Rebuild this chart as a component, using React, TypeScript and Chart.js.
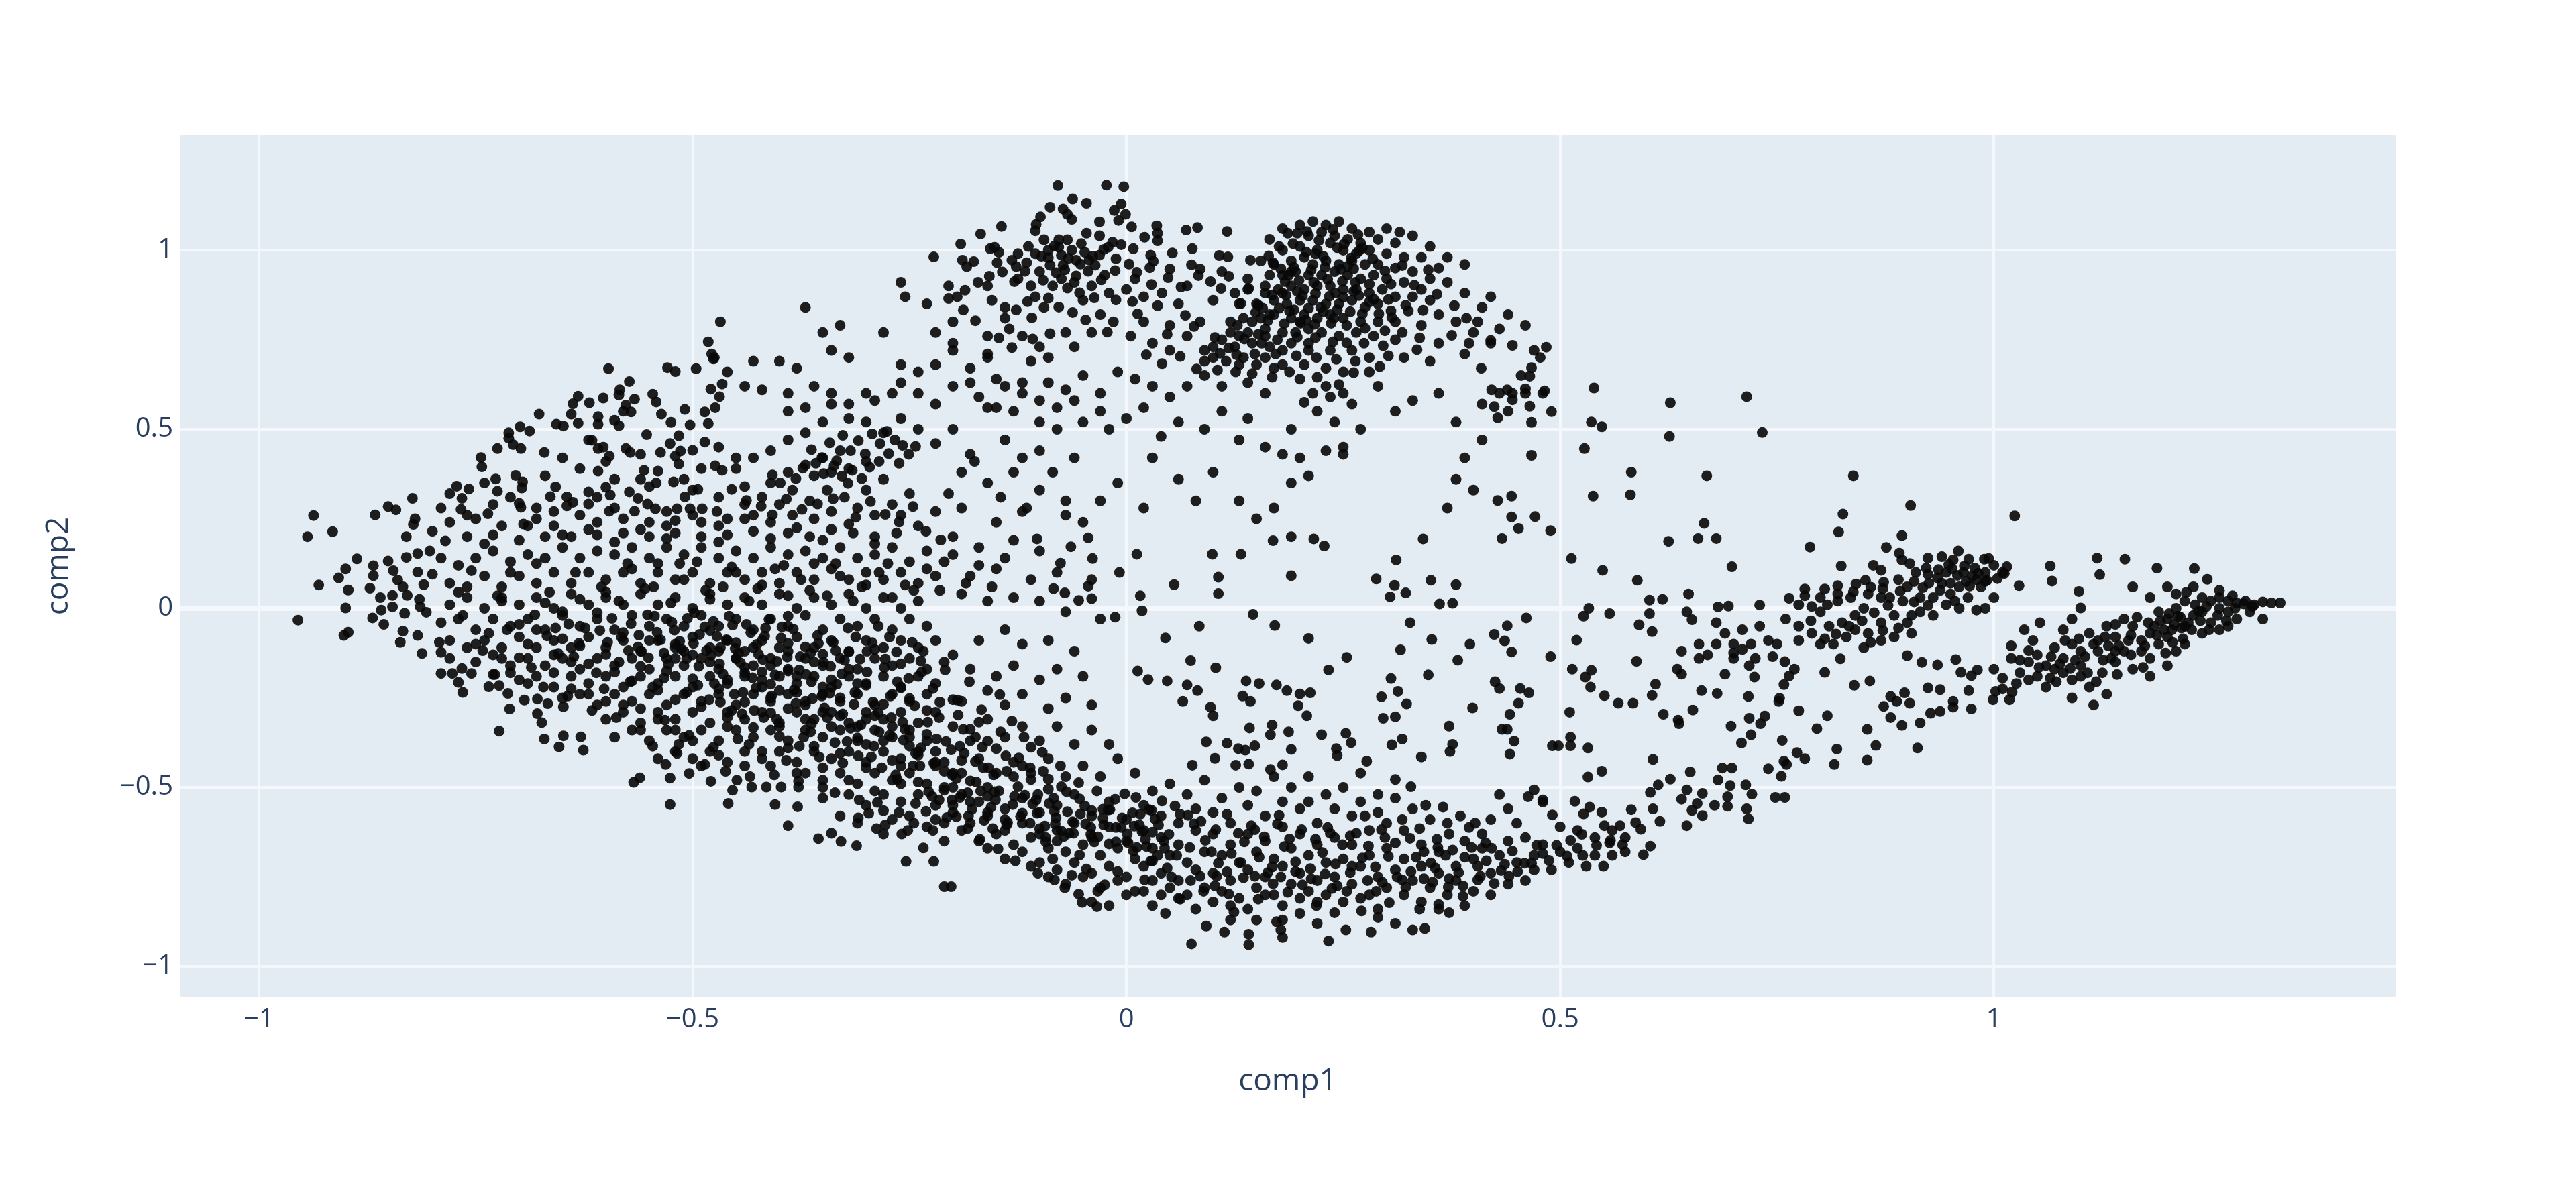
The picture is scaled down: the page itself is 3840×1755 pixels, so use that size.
import React, { useEffect, useRef } from "react";
import { Chart, registerables } from "chart.js";

Chart.register(...registerables);

const xTicks = [-1, -0.5, 0, 0.5, 1];
const yTicks = [-1, -0.5, 0, 0.5, 1];

// flat lists of comp1, comp2 pairs
const upperLeftFan = [
-.468,.8,-.482,.744,-.476,.696,-.478,.71,-.496,.669,-.597,.669,-.529,.672,-.52,.661,-.573,.633,-.584,.61,-.585,.596,-.466,.626,-.479,.612,-.469,.591,-.474,.56,-.632,.592,-.638,.571,-.64,.542,-.619,.574,-.603,.587,-.567,.584,-.546,.598,-.542,.576,-.577,.567,-.58,.55,-.571,.548,-.509,.555,-.486,.548,-.677,.542,-.536,.542,-.632,.517,-.609,.535,-.609,.514,-.59,.525,-.585,.51,-.657,.514,-.649,.509,-.525,.519,-.503,.512,-.482,.516,-.699,.507,-.688,.495,-.712,.49,-.712,.475,-.707,.457,-.698,.446,-.725,.446,-.671,.435,-.744,.421,-.743,.395,-.553,.485,-.516,.482,-.616,.469,-.609,.446,-.603,.45,-.596,.425,-.577,.446,-.572,.435,-.526,.46,-.537,.435,-.52,.425,-.514,.439,-.5,.441,-.486,.464,-.516,.403,-.609,.383,-.556,.385,-.54,.383,-.474,.398,-.466,.385,-.727,.361,-.704,.371,-.696,.353,-.697,.336,-.725,.327,-.772,.341,-.758,.333,-.766,.307,-.767,.276,-.823,.307,-.542,.35,-.522,.353,-.6,.338,-.595,.316,-.658,.339,-.664,.312,-.494,.332,-.509,.311,-.573,.325,-.563,.307,-.645,.311,-.638,.296,-.645,.286,-.62,.291,-.7,.293,-.698,.282,-.736,.264,-.851,.284,-.842,.275,-.866,.261,-.937,.259,-.552,.291,-.543,.278,-.53,.27,-.518,.278,-.503,.278,-.489,.278,-.472,.27,-.596,.271,-.567,.271,
-.78,.24,-.8,.215,-.75,.25,-.72,.23,-.68,.25,-.66,.23,-.63,.26,-.61,.24,-.58,.25,-.55,.24,-.52,.245,-.49,.24,-.46,.25,-.43,.26,-.76,.2,-.73,.205,-.7,.19,-.67,.2,-.64,.2,-.61,.205,-.58,.21,-.55,.2,-.52,.21,-.49,.2,-.46,.205,-.43,.215,-.41,.24,-.4,.29,-.42,.31,-.44,.34,-.41,.35,-.45,.39,-.43,.42,-.41,.44,-.39,.47,-.37,.49,-.35,.52,-.33,.44,-.35,.42,-.37,.4,-.39,.38,-.36,.37,-.34,.38,-.32,.39,-.3,.41,-.385,.33,-.365,.3,-.345,.33,-.325,.31,-.3,.33,-.28,.36,-.385,.26,-.36,.25,-.34,.27,-.31,.28,-.29,.26,-.27,.29,-.25,.32,-.39,.21,-.365,.2,-.34,.22,-.315,.21,-.29,.2,-.265,.21,-.24,.23,-.22,.27,
-.475,.7,-.46,.66,-.44,.62,-.43,.69,-.42,.61,-.4,.69,-.39,.6,-.38,.67,-.37,.84,-.35,.77,-.34,.72,-.33,.79,-.32,.7,-.3,.6,-.28,.77,-.27,.6,-.26,.91,-.255,.87,-.23,.85,-.22,.77,-.2,.74,-.16,.76,-.16,.71,-.39,.55,-.37,.56,-.36,.62,-.34,.57,-.32,.53,-.3,.52,-.28,.49,-.26,.53,-.24,.5,-.22,.46,-.2,.5,-.18,.43,-.16,.56,-.14,.47,-.12,.42,-.1,.44,-.08,.5,-.06,.42,
-.363,.443,-.351,.421,-.342,.462,-.334,.412,-.327,.483,-.318,.44,-.309,.468,-.301,.431,-.293,.487,-.284,.46,-.276,.494,-.267,.47,-.258,.455,-.373,.391,-.358,.405,-.349,.376,-.337,.398,-.328,.369,-.316,.385,-.305,.362,-.296,.394,-.285,.41,-.274,.432,-.262,.405,-.251,.43,-.243,.452,-.381,.362,-.399,.35,-.408,.372,
-.455,.332,-.438,.301,-.421,.285,-.408,.261,-.392,.305,-.374,.276,-.356,.291,-.338,.306,-.321,.349,-.312,.254,-.295,.298,-.278,.262,-.262,.241,-.246,.284,-.231,.215,-.214,.191,-.205,.32,-.19,.38,-.175,.41,-.16,.35,-.145,.31,-.13,.38,-.115,.28,-.1,.33,-.085,.38,-.07,.26,
-.62,.47,-.65,.42,-.63,.39,-.67,.37,-.6,.41,-.56,.43,-.55,.34,-.51,.36,-.49,.39,-.59,.36,-.61,.31,-.68,.28,-.71,.31,-.74,.35,-.78,.32,-.79,.28,-.82,.25,-.76,.26,-.73,.29,-.69,.23,-.66,.27,-.62,.22,-.59,.28,-.56,.22,-.53,.23,-.5,.26,-.47,.23,-.44,.29,-.47,.31,-.45,.42,-.47,.45,
];

const upperArc = [
-.079,1.18,-.023,1.181,-.003,1.177,-.062,1.143,-.046,1.131,-.088,1.12,-.073,1.115,-.068,1.1,-.063,1.086,-.006,1.129,-.014,1.111,-.001,1.1,-.009,1.083,-.031,1.079,.006,1.065,-.099,1.093,-.104,1.072,-.105,1.054,-.144,1.066,-.168,1.045,.035,1.068,.036,1.047,.021,1.036,.036,1.026,.069,1.056,.082,1.063,.116,1.052,-.046,1.047,-.095,1.029,-.078,1.029,-.068,1.029,-.031,1.04,-.016,1.022,-.021,1.008,-.006,1.015,-.191,1.017,-.152,1.008,-.147,.994,-.157,1.004,-.222,.981,-.125,.99,-.105,.99,-.09,1,-.078,1.008,-.063,1,-.048,.994,-.031,.986,-.09,.979,-.075,.986,-.058,.972,-.043,.972,-.012,.976,.008,1.004,.028,.986,.031,.969,.053,.992,.076,1.004,.107,.985,.117,.981,.143,.972,-.189,.972,-.184,.954,-.176,.968,-.149,.965,-.132,.972,-.127,.954,-.115,.965,-.088,.958,-.073,.958,-.053,.961,-.036,.958,.027,.951,.05,.947,.075,.959,.085,.947,.169,.965,.186,1.047,.197,1.047,
-.205,.9,-.205,.865,-.2,.8,-.195,.87,-.16,.9,-.155,.86,-.14,.81,-.135,.78,-.14,.84,-.125,.92,-.11,.9,-.1,.94,-.105,.87,-.095,.84,-.085,.9,-.075,.92,-.06,.91,-.05,.86,-.04,.9,-.025,.93,-.02,.88,0,.89,.01,.92,.02,.87,-.12,.76,-.11,.69,-.1,.73,-.09,.7,-.07,.77,-.06,.73,-.04,.77,-.03,.82,-.015,.8,.005,.76,.02,.8,.03,.74,.05,.72,.06,.85,.07,.9,.085,.8,.1,.86,.11,.94,.125,.88,.14,.92,.16,.88,.165,.82,.18,.88,.19,.94,.05,.79,.07,.76,.09,.72,.1,.7,.12,.8,.13,.76,.145,.8,.16,.76,.18,.72,.2,.8,.21,.74,.17,.67,.15,.68,-.15,.64,-.14,.62,-.12,.63,-.1,.58,-.09,.63,-.07,.61,-.05,.65,-.03,.6,-.01,.66,.01,.64,.03,.62,.05,.59,.07,.62,.09,.65,.11,.62,.13,.68,.14,.63,.16,.6,
-.34,.6,-.32,.57,-.29,.58,-.26,.63,-.24,.6,-.22,.57,-.2,.62,-.18,.63,-.17,.59,-.15,.56,-.13,.55,-.12,.6,-.1,.52,-.08,.56,-.06,.58,-.05,.52,-.03,.55,-.02,.5,0,.53,.02,.56,.04,.48,.06,.52,.09,.5,.11,.55,.13,.47,.14,.53,.18,.43,.19,.5,.16,.45,-.22,.68,-.24,.66,-.26,.68,-.18,.67,-.16,.7,-.2,.72,
-.113,1.01,-.098,.983,-.083,1.012,-.067,.977,-.052,1.018,-.039,.983,-.026,1.002,-.071,.945,-.058,.928,-.044,.941,-.029,.917,-.013,.943,.003,.961,.012,.938,-.096,.916,-.081,.937,-.117,.941,-.129,.912,-.143,.939,-.158,.927,-.171,.91,-.186,.888,-.068,.894,-.054,.881,-.037,.867,-.012,.861,.007,.856,.029,.904,.041,.88,.048,.923,.063,.897,.083,.929,.097,.912,.109,.893,.118,.927,.132,.851,.141,.893,.152,.846,-.114,.856,-.127,.833,-.109,.811,-.09,.866,-.078,.841,-.062,.826,-.047,.805,-.022,.771,.013,.822,.036,.845,.047,.765,.068,.818,.078,.787,.102,.756,.118,.727,.023,.708,.041,.683,.062,.703,.081,.668,-.088,.767,-.108,.752,-.132,.728,-.147,.755,-.174,.803,-.188,.833,
];

const denseCrown = [
.165,1.03,.18,1.06,.2,1.07,.215,1.08,.23,1.07,.245,1.08,.26,1.06,.28,1.05,.3,1.06,.315,1.05,.33,1.04,.21,1.04,.225,1.05,.24,1.04,.255,1.03,.27,1.02,.29,1.03,.31,1.02,.35,1.01,.37,.98,.39,.96,.18,1,.2,1.01,.22,1,.235,1.02,.25,1,.265,.99,.28,1,.3,.99,.32,.98,.34,.98,.36,.95,.155,.97,.17,.96,.19,.97,.205,.98,.215,.96,.23,.97,.245,.96,.26,.97,.275,.96,.29,.96,.31,.95,.33,.94,.35,.92,.165,.93,.18,.93,.195,.94,.21,.93,.225,.93,.24,.94,.255,.93,.27,.92,.285,.93,.3,.92,.32,.91,.34,.89,.37,.91,.14,.89,.16,.9,.175,.89,.19,.9,.205,.89,.22,.9,.235,.9,.25,.89,.265,.89,.28,.88,.295,.89,.31,.87,.33,.87,.35,.86,.39,.88,.42,.87,.13,.85,.15,.85,.17,.86,.185,.85,.2,.86,.215,.86,.23,.85,.245,.85,.26,.86,.275,.84,.29,.85,.305,.83,.325,.83,.36,.82,.38,.8,.41,.84,.44,.82,.46,.79,.135,.81,.155,.81,.17,.82,.19,.81,.205,.82,.22,.81,.235,.82,.25,.81,.27,.8,.29,.8,.31,.8,.34,.79,.4,.77,.43,.78,.47,.72,.12,.77,.14,.77,.16,.78,.18,.77,.195,.77,.21,.78,.225,.77,.245,.76,.265,.77,.285,.76,.31,.75,.36,.74,.39,.71,.42,.74,.1,.73,.125,.73,.145,.74,.165,.73,.19,.74,.21,.72,.235,.72,.26,.72,.28,.7,.32,.7,.35,.69,.115,.69,.135,.7,.16,.7,.18,.68,.205,.68,.23,.67,.25,.66,.28,.66,.2,.64,.23,.62,.215,.6,.25,.6,.26,.57,.22,.55,.24,.52,.27,.5,.23,.44,.25,.45,.2,.42,.19,.35,.21,.37,.19,.2,.25,.43,.29,.62,.33,.58,.31,.55,.36,.6,.38,.52,.41,.47,.39,.42,.38,.36,.4,.33,.37,.28,.43,.6,.46,.6,.44,.55,.41,.57,.455,.65,.48,.6,
.484,.729,.477,.7,.467,.672,.465,.648,.409,.67,.445,.734,.42,.748,.424,.563,.428,.532,.465,.564,.49,.549,.467,.519,.445,.6,.439,.61,.421,.61,.46,.613,.482,.607,.445,.582,.467,.427,.428,.301,.444,.313,.444,.255,.471,.256,.452,.223,.433,.195,.489,.217,
.208,1.052,.222,1.027,.238,1.058,.251,1.017,.267,1.043,.192,1.018,.207,.995,.227,.983,.243,1.007,.259,.978,.272,1.006,.213,.945,.229,.952,.247,.946,.262,.948,.284,.975,.193,.952,.178,.948,.164,.984,.199,.915,.216,.91,.232,.918,.249,.913,.264,.91,.28,.905,.298,.942,.183,.912,.168,.875,.184,.874,.203,.872,.218,.879,.234,.871,.25,.868,.268,.873,.285,.863,.176,.838,.193,.833,.21,.838,.227,.828,.243,.833,.258,.828,.272,.822,.291,.822,.302,.862,.149,.826,.163,.803,.182,.795,.201,.796,.217,.793,.236,.796,.254,.79,.275,.782,.298,.775,.152,.765,.174,.75,.197,.757,.218,.756,.238,.744,.254,.741,.274,.74,.296,.733,.108,.712,.127,.708,.148,.71,.172,.71,.196,.705,.219,.7,.242,.695,.264,.69,.09,.69,.105,.665,.126,.66,.145,.655,.168,.645,.188,.66,.22,.645,.245,.625,.235,.59,.205,.575,
.268,.998,.318,.957,.305,.905,.332,.902,.348,.945,.322,.846,.342,.832,.358,.877,.378,.845,.392,.81,.405,.8,.318,.77,.338,.755,.375,.762,.395,.74,.335,.722,.302,.705,.262,.658,.292,.675,.187,.93,.176,1.01,.255,.955,.218,.99,.197,.885,.262,.885,.28,.855,.306,.812,.241,.88,.224,.84,.239,.81,.207,.805,.188,.83,.157,.838,.128,.79,.11,.75,.136,.752,.156,.74,
];

const sparseMiddle = [
.012,.151,.099,.151,.132,.151,.106,.087,.106,.041,.055,.066,.19,.091,.169,.189,.216,.194,.228,.174,.342,.194,.311,.135,.288,.082,.309,.064,.322,.043,.304,.032,.351,.078,.38,.066,.361,.012,.376,.014,.016,.035,.018,-.007,-.013,-.025,-.008,.1,-.039,.139,-.044,.062,-.071,.043,-.055,.022,-.04,.027,-.084,.055,-.076,.126,-.064,.172,-.044,.197,-.103,.194,.146,-.017,.171,-.048,.084,-.05,.045,-.083,.21,-.084,.327,-.04,.352,-.087,.316,-.116,.396,-.1,.382,-.145,.254,-.137,.233,-.172,.348,-.186,.305,-.196,.313,-.232,.294,-.247,.323,-.267,.399,-.278,.31,-.303,.296,-.307,.372,-.329,.074,-.146,.103,-.166,.138,-.203,.153,-.21,.173,-.214,.185,-.23,.2,-.239,.212,-.236,.134,-.245,.143,-.26,.198,-.272,.208,-.3,.07,-.214,.082,-.23,.065,-.26,.097,-.276,.1,-.3,.047,-.203,.025,-.199,.013,-.175,.142,-.334,.168,-.326,.187,-.345,.166,-.353,.225,-.353,.253,-.349,.259,-.375,.242,-.392,.243,-.411,.19,-.394,.318,-.365,.306,-.381,.376,-.38,.373,-.4,.092,-.373,.116,-.377,.129,-.392,.148,-.384,.137,-.396,.102,-.419,.126,-.438,.141,-.435,.18,-.437,.166,-.45,.076,-.438,.277,-.427,.34,-.415,
.715,.591,.733,.491,.627,.574,.626,.48,.539,.615,.536,.52,.548,.507,.528,.446,.582,.38,.669,.37,.538,.313,.581,.317,.838,.37,.904,.287,.826,.263,1.024,.258,.821,.213,.894,.203,.666,.237,.659,.195,.68,.195,.625,.187,.788,.171,.876,.17,.513,.139,.549,.106,.698,.116,.589,.078,.824,.118,
.603,.023,.618,.025,.648,.04,.533,0,.527,-.022,.557,-.015,.603,-.015,.646,-.01,.652,-.032,.682,.004,.694,.006,.73,.009,.591,-.046,.606,-.065,.461,-.027,.439,-.049,.424,-.073,.436,-.091,.444,-.122,.519,-.089,.489,-.135,.588,-.148,.514,-.17,.536,-.173,.529,-.192,.535,-.22,.425,-.205,.43,-.224,.454,-.224,.464,-.236,.452,-.265,.442,-.296,.551,-.244,.567,-.265,.584,-.265,.606,-.243,.61,-.212,.511,-.29,.433,-.338,.439,-.338,.447,-.371,.442,-.407,.491,-.384,.498,-.384,.512,-.36,.512,-.384,.532,-.39,.607,-.422,.548,-.455,.532,-.471,.619,-.296,.636,-.312,.637,-.322,.653,-.284,.663,-.23,.681,-.238,.717,-.246,.752,-.26,.753,-.251,.775,-.286,.697,-.329,.718,-.307,.736,-.301,.731,-.322,.72,-.353,.709,-.376,.756,-.369,.796,-.336,.808,-.3,.854,-.338,.864,-.383,.819,-.393,.816,-.436,.854,-.424,.912,-.39,.773,-.403,.782,-.42,.758,-.427,.761,-.436,.74,-.448,.755,-.469,.687,-.446,.698,-.446,.65,-.457,.759,-.528,.748,-.528,
.9,-.132,.917,-.151,.935,-.158,.956,-.143,.962,-.179,.974,-.188,.981,-.172,.839,-.215,.857,-.203,.805,-.179,.823,-.141,.77,-.17,.764,-.189,.758,-.213,.759,-.149,.724,-.192,.718,-.16,.69,-.184,.64,-.184,.635,-.17,.64,-.12,.66,-.1,.67,-.13,.7,-.1,.69,-.07,.68,-.04,.71,-.06,.73,-.05,.7,-.125,.66,-.14,
];

const lowerBand = [
-.202,-.777,-.21,-.777,-.254,-.707,-.222,-.707,-.234,-.669,-.288,-.615,-.311,-.663,-.355,-.643,-.329,-.651,-.34,-.628,-.071,-.78,-.055,-.798,-.051,-.821,-.034,-.833,-.033,-.79,-.083,-.758,.045,-.852,.124,-.848,.092,-.887,.113,-.904,.075,-.937,.141,-.91,.141,-.939,.173,-.875,.178,-.898,.18,-.919,.233,-.929,.253,-.898,.282,-.904,.33,-.898,.344,-.894,.2,-.852,.29,-.863,.372,-.85,.36,-.827,
.627,-.477,.613,-.493,.604,-.514,.646,-.507,.64,-.533,.664,-.517,.682,-.479,.696,-.495,.714,-.493,.721,-.519,.693,-.526,.693,-.553,.678,-.55,.658,-.545,.652,-.564,.664,-.579,.646,-.607,.715,-.56,.717,-.588,.615,-.595,.607,-.56,.582,-.562,.47,-.507,.463,-.526,.48,-.541,.491,-.577,.517,-.539,.534,-.555,.527,-.574,.548,-.569,.551,-.607,.525,-.631,.587,-.598,.593,-.617,.575,-.64,.604,-.664,.596,-.688,.557,-.655,.569,-.607,
.43,-.52,.44,-.56,.45,-.6,.42,-.59,.41,-.63,.44,-.65,.46,-.64,.48,-.66,.47,-.69,.5,-.68,.52,-.67,.54,-.69,.56,-.69,.575,-.68,.55,-.72,.53,-.72,.51,-.71,.49,-.73,.47,-.73,.45,-.71,.43,-.69,.41,-.67,.39,-.65,.37,-.6,.35,-.59,.33,-.56,.31,-.53,.29,-.57,.27,-.54,.25,-.5,.23,-.52,.21,-.47,.19,-.5,.17,-.47,.15,-.51,.13,-.5,.11,-.53,.09,-.48,.07,-.52,.05,-.49,.03,-.51,.01,-.46,
.4,-.7,.42,-.74,.38,-.72,.36,-.68,.34,-.66,.32,-.62,.3,-.6,.28,-.62,.26,-.58,.24,-.56,.22,-.6,.2,-.56,.18,-.54,.16,-.58,.14,-.55,.12,-.6,.1,-.57,.08,-.56,.06,-.6,.04,-.58,.02,-.55,0,-.59,-.02,-.54,-.04,-.58,-.06,-.52,-.08,-.55,-.1,-.57,-.12,-.53,-.14,-.56,-.16,-.5,-.18,-.54,-.2,-.5,
.44,-.77,.46,-.76,.4,-.79,.38,-.76,.36,-.74,.34,-.72,.32,-.7,.3,-.67,.28,-.69,.26,-.66,.24,-.64,.22,-.66,.2,-.63,.18,-.61,.16,-.65,.14,-.63,.12,-.66,.1,-.63,.08,-.62,.06,-.66,.04,-.64,.02,-.62,0,-.65,-.02,-.61,-.04,-.64,-.06,-.6,-.08,-.62,-.1,-.63,-.12,-.6,-.14,-.62,-.16,-.57,-.18,-.6,-.2,-.57,-.22,-.59,
.42,-.8,.39,-.83,.37,-.8,.35,-.78,.33,-.76,.31,-.73,.29,-.75,.27,-.72,.25,-.7,.23,-.71,.21,-.69,.19,-.67,.17,-.7,.15,-.68,.13,-.71,.11,-.69,.09,-.68,.07,-.71,.05,-.69,.03,-.67,.01,-.7,-.01,-.67,-.03,-.69,-.05,-.66,-.07,-.68,-.09,-.67,-.11,-.64,-.13,-.66,-.15,-.63,-.17,-.65,-.19,-.62,
.36,-.84,.34,-.82,.32,-.8,.3,-.78,.28,-.8,.26,-.77,.24,-.75,.22,-.76,.2,-.74,.18,-.72,.16,-.75,.14,-.73,.12,-.76,.1,-.74,.08,-.73,.06,-.76,.04,-.74,.02,-.72,0,-.75,-.02,-.72,-.04,-.74,-.06,-.71,-.08,-.73,-.1,-.71,-.12,-.68,-.14,-.7,-.16,-.67,
.31,-.88,.29,-.84,.27,-.81,.25,-.82,.23,-.8,.21,-.79,.19,-.77,.17,-.8,.15,-.78,.13,-.81,.11,-.79,.09,-.78,.07,-.8,.05,-.78,.03,-.76,.01,-.79,-.01,-.76,-.03,-.78,-.05,-.75,-.07,-.77,-.09,-.75,-.11,-.72,
.24,-.85,.22,-.82,.2,-.81,.18,-.83,.16,-.8,.14,-.84,.12,-.83,.1,-.82,.08,-.84,.06,-.81,.04,-.8,.02,-.79,0,-.8,-.04,-.82,-.02,-.83,.03,-.83,.22,-.88,.18,-.87,.15,-.87,.12,-.87,
-.01,-.42,-.03,-.47,-.05,-.44,-.07,-.47,-.09,-.42,-.11,-.46,-.13,-.43,-.15,-.46,-.17,-.42,-.19,-.46,-.21,-.43,-.02,-.38,-.04,-.34,-.06,-.38,-.08,-.33,-.1,-.37,-.12,-.33,-.14,-.36,-.16,-.31,-.18,-.37,-.2,-.33,-.04,-.27,-.07,-.25,-.09,-.28,-.12,-.24,-.14,-.27,-.16,-.23,-.19,-.26,-.05,-.19,-.08,-.17,-.1,-.2,-.13,-.16,-.15,-.19,-.18,-.17,-.2,-.13,-.06,-.12,-.09,-.09,-.12,-.1,-.14,-.06,-.17,-.09,-.03,-.03,-.07,-.01,-.1,.02,-.13,.03,-.16,.02,-.19,.04,-.04,.08,-.08,.1,-.11,.08,-.15,.11,-.18,.09,-.21,.13,-.1,.16,-.13,.19,-.17,.17,-.2,.2,-.12,.27,-.15,.24,-.19,.28,-.07,.3,-.05,.24,-.03,.3,-.01,.35,.03,.42,.06,.36,.02,.28,.08,.3,.1,.38,.13,.3,.15,.25,.17,.28,
-.012,-.612,.007,-.571,.018,-.623,.033,-.588,.049,-.631,.062,-.575,.078,-.602,.091,-.648,-.027,-.561,-.041,-.612,-.053,-.574,-.066,-.628,-.081,-.585,-.094,-.608,-.108,-.546,-.122,-.581,-.137,-.598,-.151,-.535,-.164,-.592,-.178,-.561,-.192,-.528,-.207,-.584,-.037,-.652,-.054,-.689,-.072,-.637,-.093,-.652,.012,-.668,.028,-.706,.043,-.65,.058,-.69,.073,-.668,.106,-.712,.121,-.685,.136,-.652,.153,-.695,.168,-.722,.182,-.665,.195,-.708,.212,-.727,.226,-.682,.241,-.714,.258,-.738,.272,-.697,.287,-.722,.302,-.693,.318,-.758,.334,-.695,.351,-.711,.368,-.69,.383,-.738,.398,-.668,.415,-.705,.432,-.732,.445,-.678,.459,-.712,.473,-.662,.487,-.704,.508,-.692,.085,-.748,.102,-.775,.118,-.798,.135,-.752,.152,-.812,.169,-.769,.186,-.793,.203,-.772,.219,-.83,.237,-.782,.254,-.79,.271,-.845,.288,-.79,.303,-.822,.322,-.778,.338,-.84,.353,-.765,.371,-.778,.388,-.804,.405,-.758,.424,-.768,.441,-.748,.062,-.812,.021,-.758,
-.183,-.615,-.169,-.645,-.148,-.672,-.128,-.705,-.102,-.74,-.085,-.7,-.063,-.745,-.046,-.728,-.025,-.772,-.01,-.735,-.196,-.582,-.223,-.62,-.216,-.535,-.231,-.567,-.245,-.6,-.259,-.63,-.243,-.545,-.262,-.57,-.278,-.605,-.297,-.572,-.287,-.542,-.309,-.585,.148,-.618,.176,-.578,.21,-.54,.232,-.612,.258,-.635,.275,-.58,.298,-.64,.318,-.59,.338,-.615,.358,-.645,.372,-.63,.395,-.612,.414,-.655,.27,-.46,.29,-.52,.31,-.478,.328,-.498,.345,-.55,.365,-.555,.385,-.58,.402,-.6,.48,-.535,.5,-.61,.52,-.62,.54,-.64,.56,-.62,
-.002,-.518,-.021,-.563,.011,-.528,.026,-.562,.041,-.538,.056,-.552,.071,-.578,.086,-.595,.103,-.618,.116,-.575,.129,-.628,.144,-.607,.159,-.638,.174,-.602,.188,-.644,.202,-.618,.218,-.645,.235,-.628,.249,-.66,.265,-.628,.279,-.664,.294,-.618,.31,-.655,.327,-.642,.343,-.68,.359,-.668,.376,-.675,.39,-.695,.405,-.72,.421,-.67,.436,-.715,.451,-.735,.467,-.712,.48,-.685,.496,-.662,.512,-.648,.526,-.69,.542,-.662,.558,-.648,.572,-.66,
.03,-.705,.047,-.725,.098,-.68,.116,-.736,.132,-.71,.148,-.748,.163,-.738,.178,-.75,.195,-.735,.213,-.755,.229,-.742,.243,-.775,.26,-.72,.278,-.76,.295,-.765,.312,-.75,.328,-.735,.343,-.755,.356,-.725,.372,-.755,.388,-.775,.408,-.748,.074,-.76,.089,-.79,.104,-.748,.052,-.75,
];

const leftMass = [
-.955,-.033,-.944,.2,-.915,.214,-.887,.138,-.851,.132,-.868,.119,-.9,.11,-.908,.085,-.931,.065,-.897,.051,-.868,.091,-.872,.056,-.9,.001,-.897,-.067,-.902,-.076,-.83,.2,-.822,.234,-.817,.153,-.803,.16,-.817,.101,-.84,.079,-.834,.06,-.81,.066,-.846,.036,-.829,.036,-.859,-.005,-.869,-.027,-.856,-.045,-.834,-.064,-.837,-.095,-.817,-.076,-.812,-.126,-.792,-.095,-.79,-.123,-.846,.004,-.832,-.014,-.807,-.011,-.814,.004,-.79,-.182,-.777,-.182,-.755,-.182,-.77,-.207,-.765,-.235,-.735,-.219,-.723,-.216,-.73,-.185,-.713,-.238,-.711,-.281,-.723,-.343,-.679,-.294,-.674,-.319,-.671,-.365,-.649,-.356,-.629,-.359,-.654,-.387,-.626,-.396,-.694,-.256,-.679,-.253,-.667,-.266,-.649,-.275,-.568,-.486,-.561,-.473,-.526,-.548,-.459,-.545,-.405,-.548,-.379,-.554,-.39,-.607,-.454,-.508,-.449,-.48,-.432,-.499,-.415,-.499,-.398,-.499,-.378,-.499,-.526,-.474,-.504,-.461,-.479,-.483,-.531,-.436,-.486,-.436,-.516,-.38,
-.79,.14,-.77,.12,-.75,.14,-.73,.16,-.71,.13,-.69,.15,-.67,.14,-.65,.17,-.63,.14,-.61,.16,-.59,.15,-.57,.17,-.55,.14,-.53,.17,-.51,.15,-.49,.17,-.47,.14,-.45,.16,-.43,.14,-.41,.17,-.39,.15,-.37,.16,-.35,.14,-.33,.17,-.31,.14,-.29,.15,-.27,.17,-.25,.13,-.23,.16,
-.78,.07,-.76,.06,-.74,.09,-.72,.06,-.7,.09,-.68,.07,-.66,.1,-.64,.07,-.62,.1,-.6,.08,-.58,.1,-.56,.07,-.54,.1,-.52,.08,-.5,.1,-.48,.07,-.46,.1,-.44,.08,-.42,.1,-.4,.07,-.38,.1,-.36,.08,-.34,.11,-.32,.08,-.3,.1,-.28,.08,-.26,.1,-.24,.07,-.22,.09,
-.78,.01,-.76,.03,-.74,0,-.72,.03,-.7,.01,-.68,.03,-.66,0,-.64,.04,-.62,.01,-.6,.03,-.58,.01,-.56,.04,-.54,.01,-.52,.03,-.5,0,-.48,.04,-.46,.01,-.44,.03,-.42,.01,-.4,.04,-.38,0,-.36,.03,-.34,.01,-.32,.04,-.3,0,-.28,.03,-.26,0,-.24,.02,
-.79,-.04,-.77,-.03,-.75,-.06,-.73,-.03,-.71,-.05,-.69,-.03,-.67,-.06,-.65,-.02,-.63,-.05,-.61,-.03,-.59,-.06,-.57,-.02,-.55,-.05,-.53,-.03,-.51,-.05,-.49,-.02,-.47,-.05,-.45,-.03,-.43,-.06,-.41,-.03,-.39,-.05,-.37,-.02,-.35,-.06,-.33,-.03,-.31,-.05,-.29,-.03,-.27,-.06,-.25,-.03,-.23,-.05,
-.78,-.09,-.76,-.11,-.74,-.09,-.72,-.11,-.7,-.08,-.68,-.11,-.66,-.09,-.64,-.11,-.62,-.08,-.6,-.11,-.58,-.09,-.56,-.12,-.54,-.09,-.52,-.11,-.5,-.08,-.48,-.11,-.46,-.09,-.44,-.12,-.42,-.09,-.4,-.11,-.38,-.08,-.36,-.11,-.34,-.09,-.32,-.12,-.3,-.09,-.28,-.11,-.26,-.09,-.24,-.11,-.22,-.09,
-.75,-.15,-.73,-.13,-.71,-.16,-.69,-.14,-.67,-.16,-.65,-.14,-.63,-.17,-.61,-.14,-.59,-.16,-.57,-.14,-.55,-.17,-.53,-.14,-.51,-.16,-.49,-.14,-.47,-.17,-.45,-.14,-.43,-.16,-.41,-.14,-.39,-.17,-.37,-.14,-.35,-.16,-.33,-.14,-.31,-.17,-.29,-.14,-.27,-.16,-.25,-.14,-.23,-.17,-.21,-.15,
-.7,-.2,-.68,-.19,-.66,-.22,-.64,-.19,-.62,-.21,-.6,-.19,-.58,-.22,-.56,-.19,-.54,-.21,-.52,-.19,-.5,-.22,-.48,-.19,-.46,-.21,-.44,-.19,-.42,-.22,-.4,-.19,-.38,-.21,-.36,-.19,-.34,-.22,-.32,-.19,-.3,-.21,-.28,-.19,-.26,-.22,-.24,-.19,-.22,-.21,
-.65,-.25,-.63,-.24,-.61,-.27,-.59,-.24,-.57,-.26,-.55,-.24,-.53,-.27,-.51,-.24,-.49,-.26,-.47,-.24,-.45,-.27,-.43,-.24,-.41,-.26,-.39,-.24,-.37,-.27,-.35,-.24,-.33,-.26,-.31,-.24,-.29,-.27,-.27,-.24,-.25,-.26,-.23,-.24,
-.6,-.31,-.58,-.29,-.56,-.32,-.54,-.29,-.52,-.31,-.5,-.29,-.48,-.32,-.46,-.29,-.44,-.31,-.42,-.29,-.4,-.32,-.38,-.29,-.36,-.31,-.34,-.29,-.32,-.32,-.3,-.29,-.28,-.31,-.26,-.29,-.24,-.32,-.22,-.29,
-.59,-.36,-.57,-.34,-.55,-.37,-.53,-.34,-.51,-.36,-.49,-.34,-.47,-.37,-.45,-.34,-.43,-.36,-.41,-.34,-.39,-.37,-.37,-.34,-.35,-.36,-.33,-.34,-.31,-.37,-.29,-.34,-.27,-.36,-.25,-.34,-.23,-.37,
-.54,-.42,-.52,-.4,-.5,-.42,-.48,-.4,-.46,-.43,-.44,-.4,-.42,-.42,-.4,-.4,-.38,-.43,-.36,-.4,-.34,-.42,-.32,-.4,-.3,-.43,-.28,-.4,-.26,-.42,-.24,-.4,-.22,-.43,-.37,-.46,-.35,-.48,-.33,-.46,-.31,-.49,-.29,-.46,-.27,-.48,-.25,-.46,-.23,-.49,-.35,-.53,-.32,-.52,-.3,-.55,-.28,-.52,-.26,-.54,-.24,-.52,-.22,-.55,-.33,-.58,-.31,-.6,-.27,-.59,-.25,-.58,-.23,-.61,-.28,-.63,-.21,-.65,
-.45,-.14,-.47,-.12,-.43,-.11,-.41,-.16,-.39,-.12,-.44,-.18,-.46,-.2,-.42,-.2,-.4,-.23,-.38,-.19,-.36,-.15,-.34,-.2,-.48,-.15,-.5,-.13,-.52,-.1,-.35,-.22,-.33,-.25,-.31,-.21,-.37,-.26,-.39,-.28,-.41,-.25,-.35,-.29,-.33,-.3,-.29,-.3,-.31,-.33,-.27,-.33,-.25,-.36,-.28,-.37,-.3,-.38,-.24,-.41,-.26,-.44,-.22,-.44,-.2,-.46,-.21,-.5,-.19,-.52,-.17,-.54,-.2,-.55,-.16,-.58,
];

const denseRidge = [
-.607,-.062,-.593,-.028,-.582,-.081,-.571,-.043,-.563,-.108,-.552,-.018,-.541,-.067,-.533,-.125,-.524,-.039,-.515,-.092,-.507,-.141,-.498,-.012,-.492,-.073,-.484,-.118,-.476,-.037,-.469,-.155,-.461,-.088,-.454,-.047,-.447,-.125,-.44,-.165,-.433,-.068,-.426,-.101,-.419,-.143,-.412,-.031,-.405,-.186,-.398,-.083,-.391,-.136,-.384,-.058,-.377,-.172,-.37,-.108,-.363,-.205,-.356,-.076,-.349,-.151,-.342,-.237,-.335,-.118,-.328,-.183,-.321,-.055,-.314,-.268,-.307,-.142,-.3,-.215,-.293,-.096,-.286,-.291,-.279,-.165,-.272,-.245,-.265,-.122,-.258,-.318,-.251,-.196,-.244,-.272,-.237,-.147,-.23,-.352,-.223,-.224,-.216,-.305,-.209,-.172,-.202,-.395,-.195,-.256,-.188,-.338,-.181,-.205,-.174,-.428,-.167,-.283,-.16,-.371,-.153,-.465,-.146,-.241,-.139,-.412,-.132,-.315,-.125,-.498,-.118,-.36,-.111,-.445,-.104,-.535,-.097,-.402,-.09,-.477,-.083,-.567,-.076,-.44,-.069,-.512,-.062,-.596,-.055,-.487,-.048,-.552,-.041,-.631,-.034,-.51,-.027,-.586,-.02,-.658,-.013,-.533,-.006,-.612,.001,-.63,.008,-.678,.015,-.605,.022,-.645,.029,-.564,.036,-.69,
-.682,-.018,-.668,-.077,-.655,-.126,-.643,-.044,-.631,-.098,-.62,-.155,-.61,-.012,-.6,-.129,-.59,-.178,-.58,-.068,-.57,-.203,-.56,-.162,-.55,-.09,-.54,-.229,-.53,-.175,-.52,-.255,-.51,-.12,-.5,-.197,-.49,-.275,-.48,-.062,-.47,-.225,-.46,-.305,-.45,-.096,-.44,-.262,-.43,-.333,-.42,-.178,-.41,-.292,-.4,-.358,-.39,-.022,-.38,-.235,-.37,-.31,-.36,-.385,-.35,-.128,-.34,-.33,-.33,-.405,-.32,-.17,-.31,-.362,-.3,-.445,-.29,-.115,-.28,-.268,-.27,-.425,-.26,-.222,-.25,-.385,-.24,-.485,-.23,-.285,-.22,-.4,-.21,-.508,-.2,-.255,-.19,-.425,-.18,-.482,-.17,-.318,-.16,-.525,-.15,-.392,-.14,-.59,-.13,-.47,-.12,-.572,-.11,-.388,-.1,-.615,-.09,-.505,-.08,-.65,
-.78,-.14,-.766,-.168,-.742,-.118,-.728,-.185,-.714,-.06,-.7,-.138,-.686,-.165,-.672,-.22,-.658,-.055,-.644,-.245,-.63,-.105,-.616,-.285,-.602,-.225,-.588,-.305,-.574,-.118,-.56,-.34,-.546,-.385,-.532,-.312,-.518,-.405,-.504,-.355,-.49,-.44,-.476,-.388,-.462,-.455,-.448,-.365,-.434,-.47,-.42,-.4,-.406,-.465,-.392,-.425,-.378,-.482,-.364,-.345,-.35,-.445,-.336,-.515,-.322,-.372,-.308,-.535,-.294,-.415,-.28,-.565,-.266,-.465,-.252,-.62,-.238,-.44,-.224,-.525,-.21,-.6,-.196,-.475,-.182,-.58,-.168,-.51,-.154,-.615,
-.86,.03,-.845,.105,-.83,.142,-.815,.025,-.8,.095,-.785,.188,-.77,.045,-.755,.105,-.74,.18,-.725,.035,-.71,.1,-.695,.235,-.68,.125,-.665,.045,-.65,.205,-.635,.1,-.62,.325,-.605,.06,-.59,.185,-.575,.125,-.56,.36,-.545,.06,-.53,.195,-.515,.125,-.5,.33,-.485,.05,-.47,.185,-.455,.115,-.44,.25,-.425,.055,-.41,.195,-.395,.12,-.38,.225,-.365,.05,-.35,.19,-.335,.125,-.32,.235,-.305,.06,-.29,.18,-.275,.125,-.26,.26,-.245,.05,-.23,.11,-.215,.05,-.2,.15,-.185,.07,-.17,.12,-.155,.06,-.14,.14,
];

const darkCore = [
-.562,-.075,-.551,-.138,-.544,-.022,-.537,-.088,-.528,-.156,-.521,-.061,-.513,-.114,-.506,-.028,-.499,-.098,-.493,-.162,-.486,-.052,-.479,-.131,-.472,-.078,-.465,-.184,-.458,-.022,-.451,-.112,-.445,-.152,-.438,-.045,-.431,-.194,-.424,-.128,-.417,-.078,-.41,-.212,-.403,-.148,-.397,-.052,-.39,-.098,-.383,-.228,-.376,-.135,-.369,-.185,-.362,-.252,-.355,-.098,-.348,-.278,-.341,-.162,-.334,-.212,-.327,-.295,-.32,-.122,-.313,-.235,-.306,-.325,-.299,-.178,-.292,-.262,-.285,-.345,-.278,-.142,-.271,-.305,-.264,-.205,-.257,-.368,-.25,-.252,-.243,-.405,-.236,-.178,-.229,-.318,-.222,-.432,-.215,-.262,-.208,-.372,-.201,-.465,-.194,-.298,-.187,-.405,-.18,-.338,-.173,-.485,-.166,-.388,-.159,-.445,-.152,-.512,-.145,-.345,-.138,-.455,-.131,-.548,-.124,-.418,-.117,-.522,-.11,-.478,-.103,-.572,-.096,-.455,-.089,-.545,-.082,-.602,-.075,-.498,-.068,-.568,-.061,-.628,-.054,-.532,-.047,-.602,-.04,-.565,-.033,-.638,-.026,-.605,-.019,-.562,-.012,-.652,-.005,-.585,.002,-.655,.009,-.608,.016,-.575,.023,-.665,.03,-.625,.037,-.605,.044,-.67,
-.475,-.21,-.468,-.262,-.46,-.33,-.452,-.24,-.443,-.295,-.435,-.38,-.427,-.222,-.418,-.305,-.409,-.245,-.4,-.33,-.39,-.39,-.381,-.265,-.372,-.36,-.363,-.322,-.354,-.415,-.345,-.305,-.336,-.375,-.327,-.432,-.318,-.335,-.309,-.412,-.3,-.31,-.291,-.385,-.282,-.445,-.273,-.355,-.264,-.478,-.255,-.338,-.246,-.44,-.237,-.39,-.228,-.512,-.219,-.365,-.21,-.455,-.201,-.535,-.192,-.385,-.183,-.515,-.174,-.36,-.165,-.445,-.156,-.555,-.147,-.51,-.138,-.605,-.129,-.525,-.12,-.44,-.111,-.6,-.102,-.52,-.093,-.64,-.084,-.53,-.075,-.622,
-.65,-.085,-.637,-.135,-.624,-.055,-.611,-.18,-.598,-.095,-.585,-.15,-.572,-.205,-.559,-.12,-.546,-.22,-.533,-.195,-.52,-.14,-.507,-.235,-.494,-.215,-.481,-.255,-.468,-.11,-.455,-.285,-.442,-.235,-.429,-.285,-.416,-.055,-.403,-.31,-.39,-.175,-.377,-.385,-.364,-.125,-.351,-.245,-.338,-.095,-.325,-.145,-.312,-.08,-.299,-.12,-.286,-.05,-.273,-.08,-.26,-.155,-.247,-.095,-.234,-.12,
-.6,.045,-.585,.02,-.57,.11,-.555,.055,-.54,.125,-.525,.015,-.51,.08,-.495,.13,-.48,.025,-.465,.06,-.45,.1,-.435,.02,-.42,.065,-.405,.11,-.39,.035,-.375,.08,-.36,.125,-.345,.035,-.33,.09,-.315,.02,-.3,.065,-.285,.1,-.27,.03,-.255,.065,
-.7,-.045,-.69,-.1,-.68,-.06,-.67,.015,-.66,-.13,-.65,-.01,-.64,-.15,-.63,.025,-.72,.02,-.735,-.07,-.75,-.1,-.765,-.02,-.72,-.14,-.71,-.18,-.69,-.21,-.66,-.18,-.64,-.225,-.62,-.24,-.6,-.26,-.58,-.27,-.56,-.28,-.54,-.31,-.52,-.34,-.5,-.37,-.47,-.41,-.44,-.44,-.41,-.44,-.38,-.46,-.35,-.5,-.32,-.48,-.29,-.51,-.26,-.49,
];

const rightTail = [
1.065,.118,1.119,.14,1.151,.137,1.122,.094,1.067,.076,1.188,.112,1.231,.111,1.246,.081,1.029,.063,1.098,.047,1.1,.001,
.764,.028,.782,.054,.782,.035,.805,.054,.82,.063,.841,.068,.858,.059,.873,.073,.861,.12,.87,.106,.891,.154,.894,.135,.903,.125,.924,.14,.94,.144,.959,.16,.953,.135,.971,.137,.989,.137,.994,.139,1.015,.116,1.012,.097,1,.03,
.76,-.03,.775,-.05,.775,-.09,.79,-.07,.8,-.01,.81,-.05,.8,-.1,.815,-.1,.825,-.04,.83,-.08,.84,-.02,.85,0,.84,-.06,.855,-.07,.85,-.11,.87,-.04,.885,-.02,.87,-.09,.885,-.08,.9,-.04,.905,-.07,.915,-.01,.895,.02,.88,.03,.9,.06,.915,.03,.925,.07,.93,.03,.945,.1,.95,.07,.965,.1,.96,.06,.975,.09,.99,.1,.985,.06,.97,.03,.945,.01,.93,-.02,.91,.1,.89,.08,.87,.03,.855,.04,.835,.03,.82,.02,.8,.03,.79,.005,.775,.01,.95,.04,.98,.08,1,.12,1.01,.1,.96,0,.98,-.005,.99,0,
.7,-.14,.72,-.1,.74,-.09,.68,-.1,.71,-.115,.75,-.1,.745,-.135,.725,-.14,
.873,-.274,.881,-.246,.888,-.26,.897,-.236,.903,-.265,.881,-.305,.894,-.327,.915,-.32,.927,-.293,.938,-.288,.924,-.222,.938,-.227,.953,-.26,.971,-.23,.974,-.281,.953,-.276,.999,-.255,1.018,-.255,1.021,-.234,1.002,-.232,1.01,-.195,1.03,-.18,1,-.17,1.02,-.14,1.04,-.15,1.05,-.19,1.06,-.22,1.07,-.17,1.09,-.2,1.08,-.14,1.1,-.16,1.11,-.22,1.13,-.24,1.125,-.18,1.14,-.15,1.12,-.12,1.15,-.12,1.16,-.17,1.18,-.14,1.17,-.09,1.19,-.1,1.2,-.08,1.21,-.12,1.22,-.05,1.18,-.07,1.16,-.05,1.2,-.03,1.19,-.01,1.14,-.08,1.15,-.03,1.13,-.05,1.24,-.07,1.23,-.02,1.25,-.04,1.21,0,1.22,.02,1.26,0,1.24,.03,1.21,.04,1.23,.06,1.25,.02,1.27,.02,1.28,.015,1.29,.02,1.3,.01,1.31,.018,1.32,.015,1.33,.015,1.295,-.01,1.31,-.03,1.28,-.03,1.27,-.01,1.14,-.12,1.17,-.12,1.05,-.13,1.07,-.11,1.09,-.1,1.1,-.12,1.12,-.09,1.11,-.07,1.08,-.18,1.1,-.19,1.06,-.16,1.045,-.09,1.035,-.06,1.053,-.04,1.09,-.03,1.08,-.06,
1.09,-.25,1.115,-.27,1.18,-.19,1.2,-.16,1.22,-.1,1.26,-.06,1.27,-.05,1.135,-.14,1.155,-.09,1.185,-.05,1.205,-.06,1.24,-.01,1.26,.05,1.2,.06,1.16,.06,1.18,.03,
.922,.112,.935,.085,.948,.122,.958,.092,.968,.075,.978,.112,.992,.078,1.004,.083,.918,.058,.938,.05,.908,.018,.924,.008,.892,.048,.878,.008,.862,-.012,.848,-.035,.833,-.05,.818,-.072,.805,-.085,.789,-.035,.858,-.095,.872,-.062,.89,-.055,.905,-.02,.872,.055,.852,.078,.838,.046,.82,.04,.808,.01,
1.072,-.205,1.088,-.168,1.105,-.135,1.118,-.205,1.132,-.105,1.142,-.185,1.158,-.13,1.172,-.165,1.188,-.075,1.198,-.125,1.208,-.045,1.218,-.085,1.228,-.06,1.238,-.035,1.248,-.06,1.258,-.02,1.268,-.035,1.278,0,1.288,.012,1.298,.005,1.165,-.025,1.178,-.04,1.192,-.035,1.215,-.025,1.232,.01,1.245,.005,1.26,.03,1.275,.035,1.222,.045,1.14,-.045,1.128,-.08,1.115,-.1,1.098,-.085,1.082,-.09,1.066,-.135,1.052,-.165,1.04,-.2,1.026,-.21,1.01,-.225,1.065,-.195,1.04,-.118,1.03,-.145,1.02,-.105,
1.212,-.022,1.224,-.04,1.236,-.008,1.216,-.055,1.202,-.015,1.174,-.105,1.196,-.06,1.206,-.095,1.158,-.075,1.144,-.105,1.126,-.145,1.108,-.18,1.094,-.145,1.076,-.155,.972,.062,.982,.098,.966,.118,.952,.11,.936,.108,.924,.095,.908,.075,.955,.02,.94,.07,.99,.075,
];

const clusters = [upperLeftFan, upperArc, denseCrown, sparseMiddle, lowerBand, leftMass, denseRidge, darkCore, rightTail];

const minus = (v: number) => String(v).replace("-", "\u2212");
const textColor = "#2a3f5f";
const face = "'Open Sans', sans-serif";

const plotBackground = {
  id: "plotBackground",
  beforeDraw(chart: any) {
    const { ctx, chartArea: a } = chart;
    ctx.save();
    ctx.fillStyle = "#e3ebf3";
    ctx.fillRect(a.left, a.top, a.right - a.left, a.bottom - a.top);
    ctx.restore();
  },
};

export default function App() {
  const ref = useRef<HTMLCanvasElement>(null);
  useEffect(() => {
    const points: { x: number; y: number }[] = [];
    for (const list of clusters) {
      for (let i = 0; i + 1 < list.length; i += 2) points.push({ x: list[i], y: list[i + 1] });
    }
    const chart = new Chart(ref.current!, {
      type: "scatter",
      data: {
        datasets: [
          {
            data: points,
            pointRadius: 8,
            pointBackgroundColor: "rgba(8,8,8,0.9)",
            pointBorderWidth: 0,
          },
        ],
      },
      plugins: [plotBackground],
      options: {
        animation: false,
        responsive: false,
        layout: { autoPadding: false, padding: { top: 201, right: 269, left: 0, bottom: 0 } },
        plugins: { legend: { display: false }, tooltip: { enabled: false } },
        scales: {
          x: {
            type: "linear",
            min: -1.0912,
            max: 1.463,
            afterBuildTicks: (s: any) => { s.ticks = xTicks.map((value) => ({ value })); },
            afterFit: (s: any) => { s.height = 268; },
            grid: { color: "#f4f7fb", lineWidth: 4, drawTicks: false },
            border: { display: false },
            ticks: {
              padding: 10, maxRotation: 0, autoSkip: false, color: textColor,
              font: { family: face, size: 40 },
              callback: (v: any) => minus(v),
            },
            title: {
              display: true, text: "comp1", color: textColor,
              font: { family: face, size: 46 }, padding: { top: 0, bottom: 115 },
            },
          },
          y: {
            type: "linear",
            min: -1.086,
            max: 1.322,
            afterBuildTicks: (s: any) => { s.ticks = yTicks.map((value) => ({ value })); },
            afterFit: (s: any) => { s.width = 268; },
            grid: {
              color: "#f4f7fb",
              lineWidth: (c: any) => (c.tick && c.tick.value === 0 ? 7 : 4),
              drawTicks: false,
            },
            border: { display: false },
            ticks: {
              padding: 10, autoSkip: false, color: textColor,
              font: { family: face, size: 40 },
              callback: (v: any) => minus(v),
            },
            title: {
              display: true, text: "comp2", color: textColor,
              font: { family: face, size: 46 }, padding: { top: 60, bottom: 0 },
            },
          },
        },
      },
    } as any);
    return () => chart.destroy();
  }, []);
  return (
    <canvas
      ref={ref}
      width={3840}
      height={1755}
      style={{ position: "fixed", left: 0, top: 0, display: "block", width: 3840, height: 1755 }}
    />
  );
}
